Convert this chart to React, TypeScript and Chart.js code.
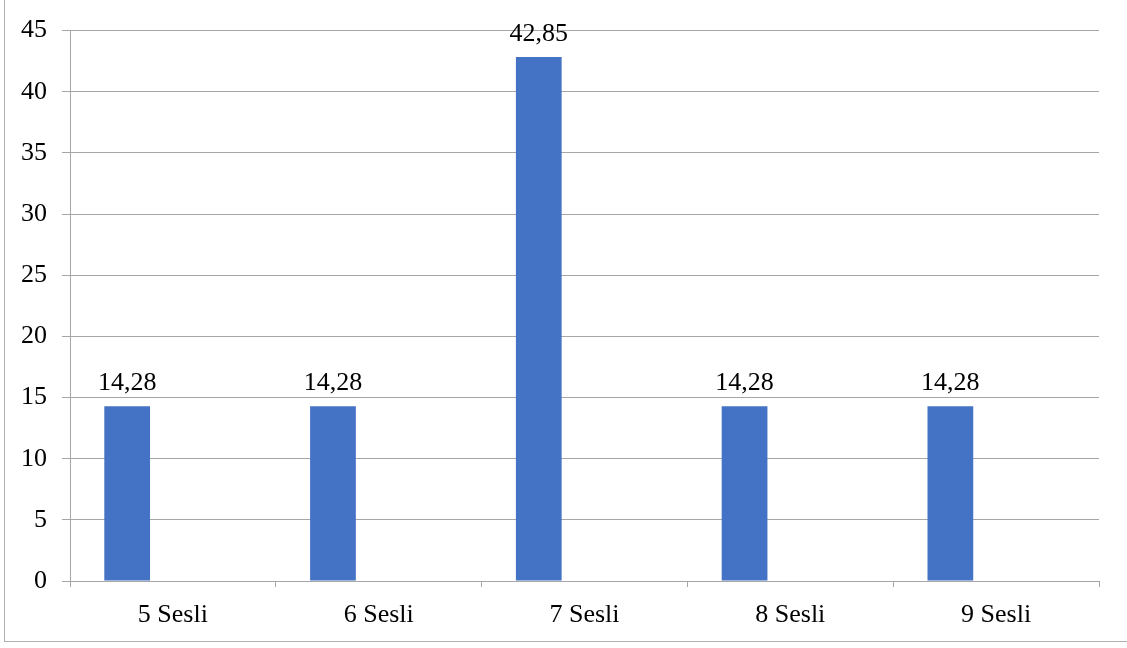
import React, { useEffect, useRef } from "react";
import { Chart, registerables } from "chart.js";

Chart.register(...registerables);

const categories = ["5 Sesli", "6 Sesli", "7 Sesli", "8 Sesli", "9 Sesli"];
const series1 = [14.28, 14.28, 42.85, 14.28, 14.28];
const series2: (number | null)[] = [null, null, null, null, null];
const series3: (number | null)[] = [null, null, null, null, null];
const valueLabels = ["14,28", "14,28", "42,85", "14,28", "14,28"];
const yTicks = [0, 5, 10, 15, 20, 25, 30, 35, 40, 45];

const FONT = "'Liberation Serif', 'Times New Roman', serif";
const GRID = "#a6a6a6";

const labelPlugin = {
  id: "valueLabels",
  afterDatasetsDraw(chart: any) {
    const meta = chart.getDatasetMeta(0);
    const ctx = chart.ctx;
    ctx.save();
    ctx.font = `26px ${FONT}`;
    ctx.fillStyle = "#000";
    ctx.textAlign = "center";
    ctx.textBaseline = "alphabetic";
    meta.data.forEach((bar: any, i: number) => {
      ctx.fillText(valueLabels[i], bar.x, bar.y - 16);
    });
    ctx.restore();
  },
};

export default function App() {
  const ref = useRef<HTMLCanvasElement | null>(null);
  useEffect(() => {
    if (!ref.current) return;
    const chart = new Chart(ref.current, {
      type: "bar",
      data: {
        labels: categories,
        datasets: [
          { data: series1, backgroundColor: "#4472C4", categoryPercentage: 0.6667, barPercentage: 1 },
          { data: series2 as any, backgroundColor: "#ED7D31", categoryPercentage: 0.6667, barPercentage: 1 },
          { data: series3 as any, backgroundColor: "#A5A5A5", categoryPercentage: 0.6667, barPercentage: 1 },
        ],
      },
      options: {
        responsive: false,
        animation: false,
        layout: { padding: { left: 0, right: 28, top: 28, bottom: 0 } },
        plugins: { legend: { display: false }, tooltip: { enabled: false } },
        scales: {
          x: {
            grid: { display: true, drawOnChartArea: false, offset: true, color: GRID, tickLength: 6 },
            border: { display: true, color: GRID },
            ticks: { color: "#000", font: { family: FONT, size: 26 }, padding: 13 },
            afterFit: (s: any) => { s.height = 648 - 581; },
          },
          y: {
            min: 0,
            max: 45,
            afterBuildTicks: (s: any) => { s.ticks = yTicks.map((v) => ({ value: v })); },
            grid: { color: GRID, tickLength: 8 },
            border: { display: true, color: GRID },
            ticks: { color: "#000", font: { family: FONT, size: 26 }, padding: 15, stepSize: 5 },
            afterFit: (s: any) => { s.width = 70; },
          },
        },
      },
      plugins: [labelPlugin],
    });
    return () => chart.destroy();
  }, []);
  return (
    <div style={{ position: "fixed", left: 0, top: 0, width: 1127, height: 648, overflow: "hidden", background: "#fff" }}>
      <canvas ref={ref} width={1127} height={648} style={{ position: "absolute", left: 0, top: 0 }} />
      <div style={{ position: "absolute", left: 4, top: -2, width: 1200, height: 644, borderLeft: "1px solid #b0b0b0", borderBottom: "1px solid #b0b0b0", boxSizing: "border-box", pointerEvents: "none" }} />
    </div>
  );
}
